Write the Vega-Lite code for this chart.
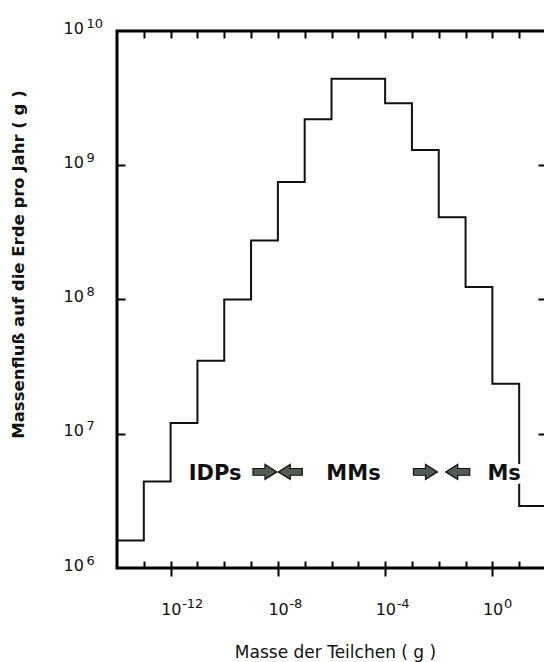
{
  "$schema": "https://vega.github.io/schema/vega-lite/v6.json",
  "width": 429,
  "height": 537,
  "autosize": {"type": "none"},
  "padding": {"left": 117, "top": 31, "right": 0, "bottom": 94},
  "background": "white",
  "config": {
    "font": "DejaVu Sans",
    "view": {"stroke": "#000", "strokeWidth": 3},
    "axis": {"domain": false, "grid": false, "tickColor": "#000", "tickWidth": 2, "labelColor": "#111", "titleColor": "#111", "labelFlush": false, "labelOverlap": false, "labelBound": false}
  },
  "datasets": {
    "flux": [
      {"mass": 1e-14, "flux": 1.6e6},
      {"mass": 1e-13, "flux": 4.4e6},
      {"mass": 1e-12, "flux": 1.2e7},
      {"mass": 1e-11, "flux": 3.5e7},
      {"mass": 1e-10, "flux": 1.0e8},
      {"mass": 1e-9, "flux": 2.75e8},
      {"mass": 1e-8, "flux": 7.5e8},
      {"mass": 1e-7, "flux": 2.2e9},
      {"mass": 1e-6, "flux": 4.4e9},
      {"mass": 1e-4, "flux": 2.9e9},
      {"mass": 1e-3, "flux": 1.3e9},
      {"mass": 1e-2, "flux": 4.1e8},
      {"mass": 1e-1, "flux": 1.24e8},
      {"mass": 1, "flux": 2.36e7},
      {"mass": 10, "flux": 2.9e6},
      {"mass": 100, "flux": 2.9e6}
    ],
    "labels": [
      {"label": "IDPs", "mass": 4.57e-11, "flux": 4.5e6},
      {"label": "MMs", "mass": 6.6e-6, "flux": 4.5e6},
      {"label": "Ms", "mass": 2.75, "flux": 4.5e6}
    ],
    "arrows": [
      {"dir": "right", "mass": 3.3e-9, "flux": 5.2e6},
      {"dir": "left", "mass": 2.9e-8, "flux": 5.2e6},
      {"dir": "right", "mass": 3.2e-3, "flux": 5.2e6},
      {"dir": "left", "mass": 5.1e-2, "flux": 5.2e6}
    ]
  },
  "resolve": {"axis": {"x": "independent", "y": "independent"}},
  "layer": [
    {
      "data": {"name": "flux"},
      "mark": {"type": "line", "interpolate": "step-after", "color": "#111", "strokeWidth": 2},
      "encoding": {
        "x": {
          "field": "mass", "type": "quantitative",
          "scale": {"type": "log", "domain": [1e-14, 100], "nice": false},
          "axis": {
            "orient": "bottom",
            "values": [1e-12, 1e-8, 1e-4, 1],
            "tickSize": 8,
            "labelAlign": "left",
            "labelBaseline": "alphabetic",
            "labelOffset": -10,
            "labelPadding": 38,
            "labelFontSize": 16,
            "labelExpr": "'10'",
            "title": "Masse der Teilchen ( g )",
            "titleFontSize": 17,
            "titleFontWeight": "normal",
            "titleX": 218,
            "titleY": 89,
            "titleAlign": "center",
            "titleBaseline": "alphabetic"
          }
        },
        "y": {
          "field": "flux", "type": "quantitative",
          "scale": {"type": "log", "domain": [1e6, 1e10], "nice": false},
          "axis": {
            "orient": "left",
            "values": [1e6, 1e7, 1e8, 1e9, 1e10],
            "ticks": false,
            "tickSize": 0,
            "labelAlign": "left",
            "labelBaseline": "alphabetic",
            "labelOffset": 2,
            "labelPadding": 54,
            "labelFontSize": 16,
            "labelExpr": "'10'",
            "title": "Massenfluß auf die Erde pro Jahr ( g )",
            "titleFontSize": 16.5,
            "titleFontWeight": "bold",
            "titleAngle": -90,
            "titleX": -99,
            "titleY": 233,
            "titleAlign": "center",
            "titleBaseline": "middle"
          }
        }
      }
    },
    {
      "data": {"name": "labels"},
      "mark": {"type": "text", "fontSize": 21, "fontWeight": "bold", "align": "center", "baseline": "alphabetic", "stroke": "white", "strokeWidth": 9, "fill": "white"},
      "encoding": {
        "x": {
          "field": "mass", "type": "quantitative",
          "scale": {"type": "log", "domain": [1e-14, 100], "nice": false},
          "axis": null
        },
        "y": {
          "field": "flux", "type": "quantitative",
          "scale": {"type": "log", "domain": [1e6, 1e10], "nice": false},
          "axis": {
            "orient": "right",
            "values": [1e7, 1e8, 1e9],
            "tickSize": -429,
            "tickDash": [8, 413],
            "labels": false,
            "title": null
          }
        },
        "text": {"field": "label"}
      }
    },
    {
      "data": {"name": "labels"},
      "mark": {"type": "text", "fontSize": 21, "fontWeight": "bold", "align": "center", "baseline": "alphabetic", "color": "#111"},
      "encoding": {
        "x": {
          "field": "mass", "type": "quantitative",
          "scale": {"type": "log", "domain": [1e-14, 100], "nice": false},
          "axis": {
            "orient": "top",
            "values": [1e-13, 1e-12, 1e-11, 1e-10, 1e-9, 1e-8, 1e-7, 1e-6, 1e-5, 1e-4, 1e-3, 1e-2, 1e-1, 1, 10],
            "tickSize": -537,
            "tickDash": [7, 523],
            "labels": false,
            "title": null
          }
        },
        "y": {
          "field": "flux", "type": "quantitative",
          "scale": {"type": "log", "domain": [1e6, 1e10], "nice": false},
          "axis": null
        },
        "text": {"field": "label"}
      }
    },
    {
      "data": {"name": "arrows"},
      "mark": {"type": "point", "filled": true, "size": 576, "stroke": "#111", "strokeWidth": 1.2, "fill": "#515c52", "opacity": 1},
      "encoding": {
        "x": {
          "field": "mass", "type": "quantitative",
          "scale": {"type": "log", "domain": [1e-14, 100], "nice": false},
          "axis": {
            "orient": "bottom",
            "values": [1e-12, 1e-8, 1e-4, 1],
            "ticks": false,
            "tickSize": 0,
            "labelAlign": "left",
            "labelBaseline": "alphabetic",
            "labelOffset": 11,
            "labelPadding": 39,
            "labelFontSize": 13,
            "labelExpr": "'' + round(log(datum.value)/LN10)",
            "title": null
          }
        },
        "y": {
          "field": "flux", "type": "quantitative",
          "scale": {"type": "log", "domain": [1e6, 1e10], "nice": false},
          "axis": {
            "orient": "left",
            "values": [1e6, 1e7, 1e8, 1e9, 1e10],
            "ticks": false,
            "tickSize": 0,
            "labelAlign": "left",
            "labelBaseline": "alphabetic",
            "labelOffset": -4,
            "labelPadding": 31,
            "labelFontSize": 13,
            "labelExpr": "'' + round(log(datum.value)/LN10)",
            "title": null
          }
        },
        "shape": {
          "field": "dir", "type": "nominal",
          "scale": {"domain": ["right", "left"], "range": ["M-1,-0.28L0,-0.28L0,-0.62L1,0L0,0.62L0,0.28L-1,0.28Z", "M1,-0.28L0,-0.28L0,-0.62L-1,0L0,0.62L0,0.28L1,0.28Z"]},
          "legend": null
        }
      }
    }
  ]
}
